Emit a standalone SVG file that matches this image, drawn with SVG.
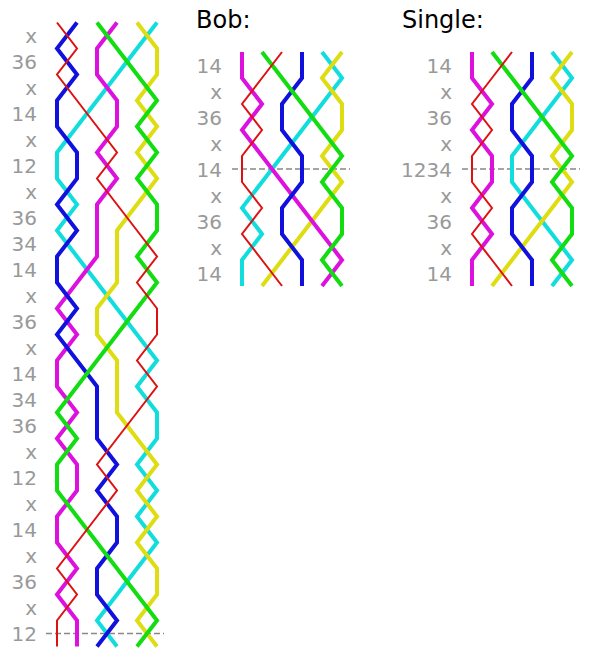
<svg xmlns="http://www.w3.org/2000/svg" width="592" height="670" viewBox="0 0 592 670">
<style>
.lbl{font-family:"DejaVu Sans",sans-serif;font-size:20px;fill:#999;text-anchor:end}
.hd{font-family:"DejaVu Sans",sans-serif;font-size:24px;fill:#000}
.ln{fill:none;stroke-width:4;stroke-linejoin:miter}
.r{stroke:#dd1111;stroke-width:2}
.b{stroke:#1111dd}
.g{stroke:#11dd11}
.m{stroke:#dd11dd}
.y{stroke:#dddd11}
.c{stroke:#11dddd}
.le{stroke:#888;stroke-width:1.5;stroke-dasharray:6,3}
</style>
<rect width="592" height="670" fill="#fff"/>
<g id="main-labels">
<text class="lbl" x="37" y="43">x</text>
<text class="lbl" x="37" y="69">36</text>
<text class="lbl" x="37" y="95">x</text>
<text class="lbl" x="37" y="121">14</text>
<text class="lbl" x="37" y="147">x</text>
<text class="lbl" x="37" y="173">12</text>
<text class="lbl" x="37" y="199">x</text>
<text class="lbl" x="37" y="225">36</text>
<text class="lbl" x="37" y="251">34</text>
<text class="lbl" x="37" y="277">14</text>
<text class="lbl" x="37" y="303">x</text>
<text class="lbl" x="37" y="329">36</text>
<text class="lbl" x="37" y="355">x</text>
<text class="lbl" x="37" y="381">14</text>
<text class="lbl" x="37" y="407">34</text>
<text class="lbl" x="37" y="433">36</text>
<text class="lbl" x="37" y="459">x</text>
<text class="lbl" x="37" y="485">12</text>
<text class="lbl" x="37" y="511">x</text>
<text class="lbl" x="37" y="537">14</text>
<text class="lbl" x="37" y="563">x</text>
<text class="lbl" x="37" y="589">36</text>
<text class="lbl" x="37" y="615">x</text>
<text class="lbl" x="37" y="641">12</text>
</g>
<g id="main-lines">
<line class="le" x1="46" y1="633.5" x2="164" y2="633.5"/>
<polyline id="main-cyan" class="ln c" points="157,22.5 137,48.5 117,74.5 97,100.5 77,126.5 57,152.5 57,178.5 77,204.5 57,230.5 77,256.5 97,282.5 117,308.5 137,334.5 157,360.5 137,386.5 157,412.5 157,438.5 137,464.5 157,490.5 137,516.5 157,542.5 137,568.5 117,594.5 97,620.5 117,646.5"/>
<polyline id="main-yellow" class="ln y" points="137,22.5 157,48.5 157,74.5 137,100.5 157,126.5 137,152.5 157,178.5 137,204.5 117,230.5 117,256.5 117,282.5 97,308.5 97,334.5 117,360.5 117,386.5 117,412.5 137,438.5 157,464.5 137,490.5 157,516.5 137,542.5 157,568.5 157,594.5 137,620.5 157,646.5"/>
<polyline id="main-magenta" class="ln m" points="117,22.5 97,48.5 97,74.5 117,100.5 117,126.5 97,152.5 117,178.5 97,204.5 97,230.5 97,256.5 77,282.5 57,308.5 77,334.5 57,360.5 57,386.5 77,412.5 57,438.5 77,464.5 77,490.5 57,516.5 57,542.5 77,568.5 57,594.5 77,620.5 77,646.5"/>
<polyline id="main-blue" class="ln b" points="77,22.5 57,48.5 77,74.5 57,100.5 57,126.5 77,152.5 77,178.5 57,204.5 77,230.5 57,256.5 57,282.5 77,308.5 57,334.5 77,360.5 97,386.5 97,412.5 97,438.5 117,464.5 97,490.5 117,516.5 117,542.5 97,568.5 97,594.5 117,620.5 97,646.5"/>
<polyline id="main-green" class="ln g" points="97,22.5 117,48.5 137,74.5 157,100.5 137,126.5 157,152.5 137,178.5 157,204.5 157,230.5 137,256.5 157,282.5 137,308.5 117,334.5 97,360.5 77,386.5 57,412.5 77,438.5 57,464.5 57,490.5 77,516.5 97,542.5 117,568.5 137,594.5 157,620.5 137,646.5"/>
<polyline id="main-red" class="ln r" points="57,22.5 77,48.5 57,74.5 77,100.5 97,126.5 117,152.5 97,178.5 117,204.5 137,230.5 157,256.5 137,282.5 157,308.5 157,334.5 137,360.5 157,386.5 137,412.5 117,438.5 97,464.5 117,490.5 97,516.5 77,542.5 57,568.5 77,594.5 57,620.5 57,646.5"/>
</g>
<g id="bob">
<text class="hd" x="196" y="28">Bob:</text>
<text class="lbl" x="222" y="72.5">14</text>
<text class="lbl" x="222" y="98.5">x</text>
<text class="lbl" x="222" y="124.5">36</text>
<text class="lbl" x="222" y="150.5">x</text>
<text class="lbl" x="222" y="176.5">14</text>
<text class="lbl" x="222" y="202.5">x</text>
<text class="lbl" x="222" y="228.5">36</text>
<text class="lbl" x="222" y="254.5">x</text>
<text class="lbl" x="222" y="280.5">14</text>
<line class="le" x1="232" y1="169" x2="350" y2="169"/>
<polyline class="ln c" points="322,52 342,78 322,104 302,130 282,156 262,182 242,208 262,234 242,260 242,286"/>
<polyline class="ln y" points="342,52 322,78 342,104 342,130 322,156 342,182 322,208 302,234 282,260 262,286"/>
<polyline class="ln m" points="242,52 242,78 262,104 242,130 262,156 282,182 302,208 322,234 342,260 322,286"/>
<polyline class="ln b" points="302,52 302,78 282,104 282,130 302,156 302,182 282,208 282,234 302,260 302,286"/>
<polyline class="ln g" points="262,52 282,78 302,104 322,130 342,156 322,182 342,208 342,234 322,260 342,286"/>
<polyline class="ln r" points="282,52 262,78 242,104 262,130 242,156 242,182 262,208 242,234 262,260 282,286"/>
</g>
<g id="single">
<text class="hd" x="402" y="28">Single:</text>
<text class="lbl" x="452" y="72.5">14</text>
<text class="lbl" x="452" y="98.5">x</text>
<text class="lbl" x="452" y="124.5">36</text>
<text class="lbl" x="452" y="150.5">x</text>
<text class="lbl" x="452" y="176.5">1234</text>
<text class="lbl" x="452" y="202.5">x</text>
<text class="lbl" x="452" y="228.5">36</text>
<text class="lbl" x="452" y="254.5">x</text>
<text class="lbl" x="452" y="280.5">14</text>
<line class="le" x1="462" y1="169" x2="580" y2="169"/>
<polyline class="ln c" points="552,52 572,78 552,104 532,130 512,156 512,182 532,208 552,234 572,260 552,286"/>
<polyline class="ln y" points="572,52 552,78 572,104 572,130 552,156 572,182 552,208 532,234 512,260 492,286"/>
<polyline class="ln m" points="472,52 472,78 492,104 472,130 492,156 492,182 472,208 492,234 472,260 472,286"/>
<polyline class="ln b" points="532,52 532,78 512,104 512,130 532,156 532,182 512,208 512,234 532,260 532,286"/>
<polyline class="ln g" points="492,52 512,78 532,104 552,130 572,156 552,182 572,208 572,234 552,260 572,286"/>
<polyline class="ln r" points="512,52 492,78 472,104 492,130 472,156 472,182 492,208 472,234 492,260 512,286"/>
</g>
</svg>
